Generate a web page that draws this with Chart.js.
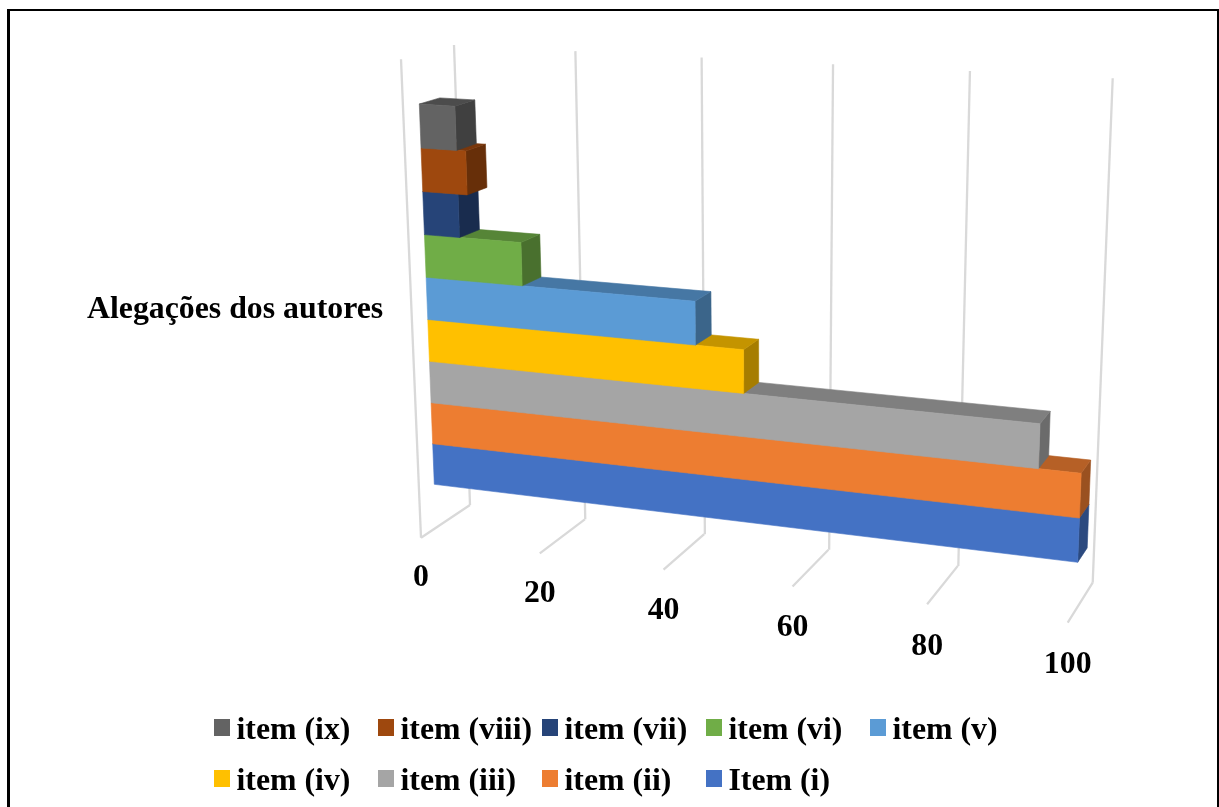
<!DOCTYPE html>
<html lang="pt">
<head>
<meta charset="utf-8">
<title>Alegações dos autores</title>
<script src="https://cdn.jsdelivr.net/npm/chart.js@4"></script>
<style>
  html, body { margin: 0; padding: 0; background: #fff; overflow: hidden; width: 1219px; height: 807px; }
  #frame { position: absolute; left: 7px; top: 9px; width: 1212px; height: 800px; box-sizing: border-box;
           border-left: 3px solid #000; border-top: 2px solid #000; border-right: 2px solid #000; }
  canvas { position: absolute; left: 0; top: 0; }
  #legend { position: absolute; left: 0; top: 0; margin: 0; padding: 0; list-style: none;
            font: bold 31.8px "Liberation Serif", serif; color: #000; }
  #legend li { position: absolute; white-space: nowrap; height: 40px; }
  #legend i { position: absolute; left: 0; top: 0; width: 16px; height: 17px; }
  #legend span { position: absolute; left: 22.5px; top: -8px; line-height: 36px; }
</style>
</head>
<body>
<div id="frame"></div>
<canvas id="chart" width="1219" height="807"></canvas>
<ul id="legend"></ul>
<script>
// Chart content
const categories = ['Alegações dos autores'];
const seriesNames = ['item (ix)', 'item (viii)', 'item (vii)', 'item (vi)', 'item (v)',
                     'item (iv)', 'item (iii)', 'item (ii)', 'Item (i)'];
const seriesValues = [5.8, 7.3, 5.8, 15.8, 43.1, 50.5, 94, 100, 100];
const seriesColors = ['#636363', '#9E480E', '#264478', '#70AD47', '#5B9BD5',
                      '#FFC000', '#A5A5A5', '#ED7D31', '#4472C4'];
const axisMin = 0;
const axisMax = 100;
const axisStep = 20;

// Perspective camera: each plane is a quad listed as (u0,v0), (u1,v0), (u1,v1), (u0,v1)
const barFrontQuad = [[434.3, 484.3], [1077.7, 562.3], [1094, 146], [419.3, 104]];
const barBackQuad  = [[454.8, 473.2], [1087.2, 547.9], [1103.5, 136.6], [439.8, 97.9]];
const wallQuad     = [[470, 505], [1092.7, 582.7], [1112.7, 78.3], [454, 45]];
const floorQuad    = [[421, 537.7], [1067.7, 622.7], [1092.7, 582.7], [470, 505]];
const sideWallTop  = [401, 59.3];
const GRID_COLOR = '#d9d9d9';
const TEXT_FONT = 'bold 31.8px "Liberation Serif", serif';

function homography(q) {
  const [[x0, y0], [x1, y1], [x2, y2], [x3, y3]] = q;
  const dx1 = x1 - x2, dx2 = x3 - x2, sx = x0 - x1 + x2 - x3;
  const dy1 = y1 - y2, dy2 = y3 - y2, sy = y0 - y1 + y2 - y3;
  const den = dx1 * dy2 - dy1 * dx2;
  const g = (sx * dy2 - sy * dx2) / den;
  const h = (dx1 * sy - dy1 * sx) / den;
  const a = x1 - x0 + g * x1, b = x3 - x0 + h * x3;
  const d = y1 - y0 + g * y1, e = y3 - y0 + h * y3;
  return (u, v) => {
    const w = g * u + h * v + 1;
    return [(a * u + b * v + x0) / w, (d * u + e * v + y0) / w];
  };
}

const onFront = homography(barFrontQuad);
const onBack = homography(barBackQuad);
const onWall = homography(wallQuad);
const onFloor = homography(floorQuad);

function project(u, v, depth) {
  const f = onFront(u, v), b = onBack(u, v);
  return [f[0] + (b[0] - f[0]) * depth, f[1] + (b[1] - f[1]) * depth];
}

function shade(hex, k) {
  const n = parseInt(hex.slice(1), 16);
  const c = [n >> 16, (n >> 8) & 255, n & 255].map(x => Math.round(x * k));
  return `rgb(${c[0]},${c[1]},${c[2]})`;
}

function face(ctx, pts, color) {
  ctx.beginPath();
  pts.forEach((p, i) => (i ? ctx.lineTo(p[0], p[1]) : ctx.moveTo(p[0], p[1])));
  ctx.closePath();
  ctx.fillStyle = color;
  ctx.strokeStyle = color;
  ctx.lineWidth = 0.6;
  ctx.fill();
  ctx.stroke();
}

function segment(ctx, a, b) {
  ctx.beginPath();
  ctx.moveTo(a[0], a[1]);
  ctx.lineTo(b[0], b[1]);
  ctx.stroke();
}

// Draws walls, floor, tick labels and the category title in perspective
const perspectiveAxes = {
  id: 'perspectiveAxes',
  beforeDatasetsDraw(chart) {
    const { ctx, scales: { x } } = chart;
    const span = x.right - x.left;
    ctx.save();
    ctx.strokeStyle = GRID_COLOR;
    ctx.lineWidth = 2.3;
    ctx.lineCap = 'butt';
    segment(ctx, onFloor(0, 0), sideWallTop);
    ctx.font = TEXT_FONT;
    ctx.textAlign = 'center';
    ctx.textBaseline = 'middle';
    x.ticks.forEach(t => {
      const u = (x.getPixelForValue(t.value) - x.left) / span;
      const front = onFloor(u, 0);
      segment(ctx, front, onFloor(u, 1));
      segment(ctx, onWall(u, 0), onWall(u, 1));
      ctx.fillStyle = '#000';
      ctx.fillText(t.label, front[0], front[1] + 40.5 + 2 * u);
    });
    ctx.textAlign = 'left';
    ctx.fillText(chart.data.labels[0], 87, 309.5);
    ctx.restore();
  },
  // Replaces the flat rectangle of each bar with a solid block
  beforeDatasetDraw(chart, args) {
    const { ctx, chartArea: area } = chart;
    const color = chart.data.datasets[args.index].backgroundColor;
    args.meta.data.forEach(el => {
      const p = el.getProps(['x', 'y', 'base', 'height']);
      const u0 = (p.base - area.left) / area.width;
      const u1 = (p.x - area.left) / area.width;
      const v0 = (area.bottom - (p.y + p.height / 2)) / area.height;
      const v1 = (area.bottom - (p.y - p.height / 2)) / area.height;
      face(ctx, [project(u1, v0, 0), project(u1, v1, 0), project(u1, v1, 1), project(u1, v0, 1)], shade(color, 0.65));
      face(ctx, [project(u0, v1, 0), project(u1, v1, 0), project(u1, v1, 1), project(u0, v1, 1)], shade(color, 0.77));
      face(ctx, [project(u0, v0, 0), project(u1, v0, 0), project(u1, v1, 0), project(u0, v1, 0)], color);
    });
    return false;
  }
};

const chart = new Chart(document.getElementById('chart'), {
  type: 'bar',
  data: {
    labels: categories,
    datasets: seriesNames.map((name, i) => ({
      label: name,
      data: [seriesValues[i]],
      backgroundColor: seriesColors[i],
      categoryPercentage: 1,
      barPercentage: 1
    }))
  },
  options: {
    indexAxis: 'y',
    responsive: false,
    animation: false,
    layout: { padding: 0 },
    plugins: { legend: { display: false }, tooltip: { enabled: false } },
    scales: {
      x: { display: false, min: axisMin, max: axisMax, ticks: { stepSize: axisStep } },
      y: { display: false }
    }
  },
  plugins: [perspectiveAxes]
});

// Two-row legend on an even column grid
const LEGEND_LEFT = 214, LEGEND_TOP = 719, COLUMN = 164, ROW = 51, PER_ROW = 5;
const legendList = document.getElementById('legend');
Chart.defaults.plugins.legend.labels.generateLabels(chart).forEach((item, i) => {
  const li = document.createElement('li');
  li.style.left = LEGEND_LEFT + COLUMN * (i % PER_ROW) + 'px';
  li.style.top = LEGEND_TOP + ROW * Math.floor(i / PER_ROW) + 'px';
  const box = document.createElement('i');
  box.style.background = item.fillStyle;
  const text = document.createElement('span');
  text.textContent = item.text;
  li.append(box, text);
  legendList.append(li);
});
</script>
</body>
</html>
